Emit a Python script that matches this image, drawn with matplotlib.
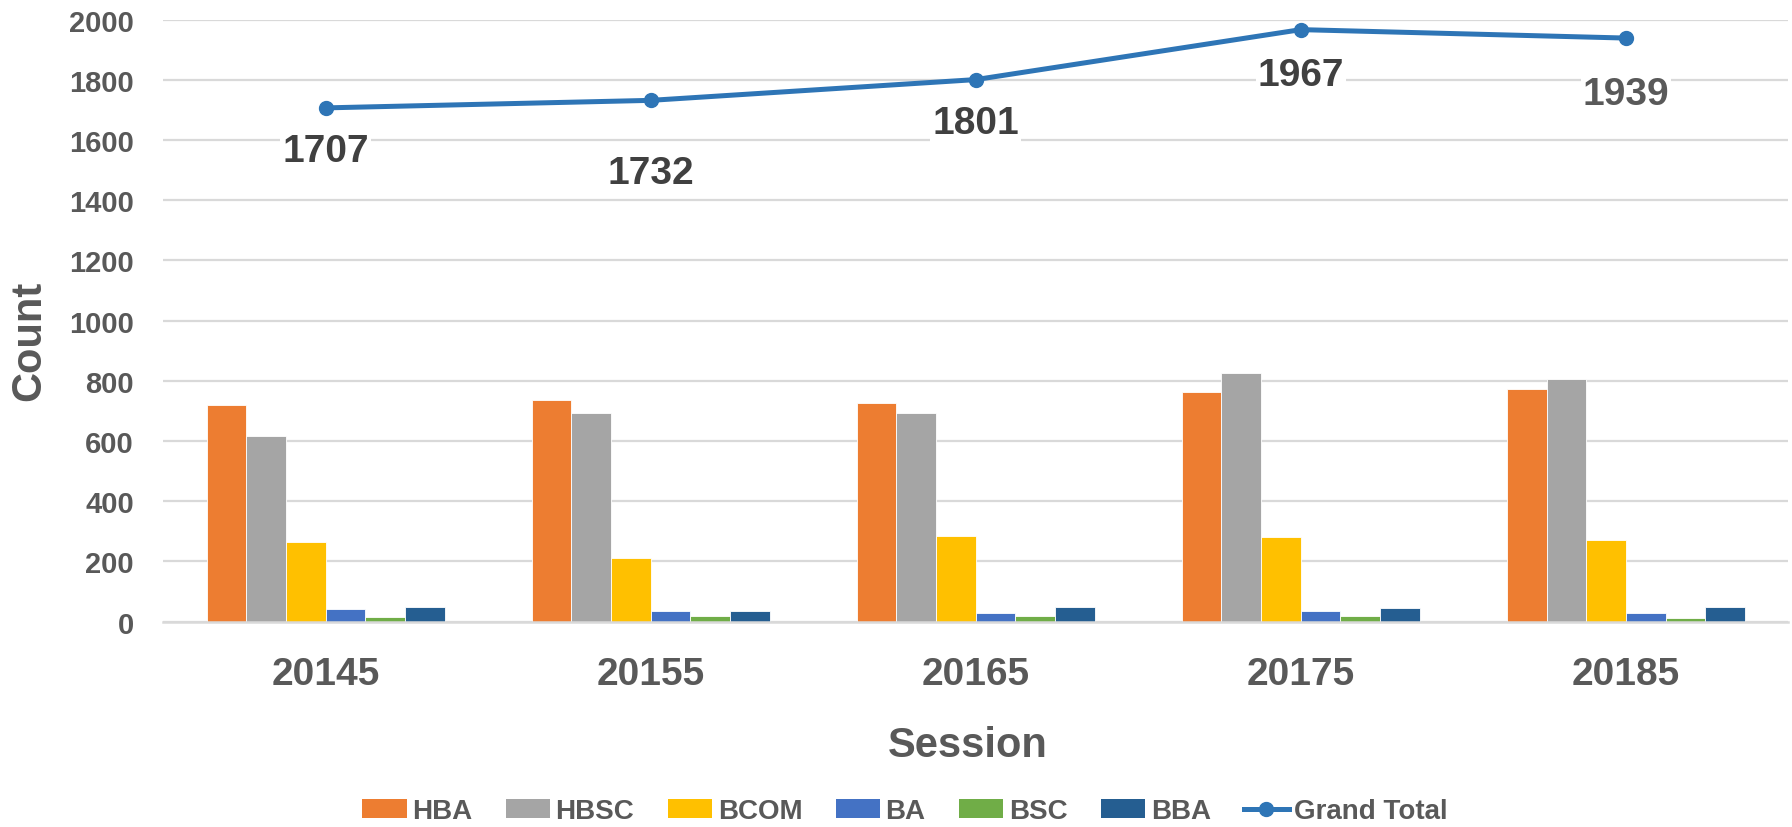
import matplotlib
matplotlib.use("Agg")
import numpy as np
import matplotlib.pyplot as plt
from matplotlib.patches import Patch
from matplotlib.lines import Line2D

plt.rcParams['font.family'] = ['Liberation Sans', 'DejaVu Sans']
plt.rcParams['font.weight'] = 'bold'

# Données
sessions = ["20145", "20155", "20165", "20175", "20185"]
hba = [720, 736, 727, 763, 772]
hbsc = [616, 694, 692, 825, 806]
bcom = [264, 213, 285, 281, 271]
ba = [42, 34, 29, 35, 30]
bsc = [16, 20, 19, 19, 12]
bba = [49, 35, 49, 44, 48]
grand_total = [1707, 1732, 1801, 1967, 1939]

series = [("HBA", hba, "#ED7D31"), ("HBSC", hbsc, "#A5A5A5"),
          ("BCOM", bcom, "#FFC000"), ("BA", ba, "#4472C4"),
          ("BSC", bsc, "#70AD47"), ("BBA", bba, "#255E91")]
line_color = "#2E75B6"
text_grey = "#595959"

fig = plt.figure(figsize=(17.92, 8.28), dpi=100)
ax = fig.add_axes([0.091, 0.248, 0.907, 0.727])

x = np.arange(len(sessions))
w = 0.122
for i, (name, vals, col) in enumerate(series):
    ax.bar(x + (i - 2.5) * w, vals, width=w, color=col, edgecolor="white",
           linewidth=0.6, zorder=2)

ax.plot(x, grand_total, color=line_color, linewidth=3.6, marker="o",
        markersize=10, zorder=4)

# Étiquettes placées sous les points (décalages en points)
label_offsets = [31, 52, 31, 33, 40]
label_colors = ["#404040", "#404040", "#404040", "#404040", "#595959"]
for xi, v, c, off in zip(x, grand_total, label_colors, label_offsets):
    ax.annotate(str(v), (xi, v), xytext=(0, -off), textcoords="offset points",
                ha="center", va="center", fontsize=28, fontweight="bold",
                color=c, zorder=5,
                bbox=dict(facecolor="white", edgecolor="none", pad=1.5))

ax.set_xlim(-0.5, len(sessions) - 0.5)
ax.set_ylim(0, 2000)
ax.set_yticks(np.arange(0, 2001, 200))
ax.set_xticks(x)
ax.set_xticklabels(sessions)
ax.grid(axis="y", color="#D9D9D9", linewidth=1.6, zorder=0)
ax.set_axisbelow(True)
for s in ["top", "right", "left"]:
    ax.spines[s].set_visible(False)
ax.spines["bottom"].set_color("#D9D9D9")
ax.spines["bottom"].set_linewidth(1.8)
ax.tick_params(axis="both", length=0)
ax.tick_params(axis="y", labelsize=21, labelcolor=text_grey, pad=21)
ax.tick_params(axis="x", labelsize=28, labelcolor=text_grey, pad=25)
for lab in ax.get_xticklabels() + ax.get_yticklabels():
    lab.set_fontweight("bold")

# Titres des axes
fig.text(29 / 1792, 1 - 341 / 828, "Count", rotation=90, ha="center",
         va="center", fontsize=30, fontweight="bold", color=text_grey)
fig.text(968 / 1792, 1 - 746 / 828, "Session", ha="center", va="center",
         fontsize=30, fontweight="bold", color=text_grey)

handles = [Patch(facecolor=col, edgecolor="none") for _, _, col in series]
handles.append(Line2D([0], [0], color=line_color, linewidth=3.6, marker="o",
                      markersize=10))
labels = [name for name, _, _ in series] + ["Grand Total"]
fig.legend(handles, labels, loc="center", bbox_to_anchor=(0.505, 0.019),
           ncol=7, frameon=False, fontsize=20, labelcolor=text_grey,
           handlelength=1.6, handleheight=0.65, handletextpad=0.2,
           columnspacing=1.2)

fig.savefig("out.png", dpi=100)
